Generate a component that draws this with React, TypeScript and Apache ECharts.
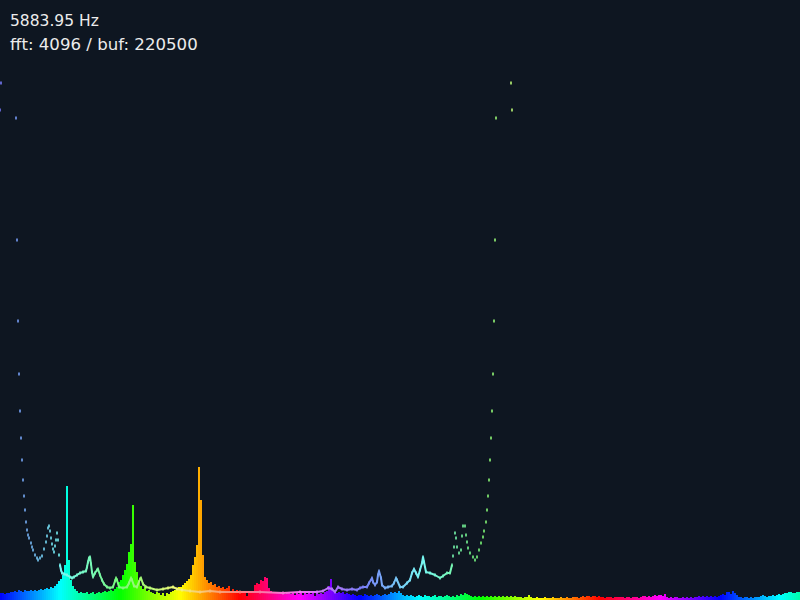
import React, { useEffect, useRef } from "react";
import * as echarts from "echarts";

// Spectrum bar heights, one per 2-px bin (0..799), in px above the floor
const binHeights = [
  7, 7, 6, 7, 7, 8, 8, 9, 8, 10,
  9, 8, 10, 9, 9, 10, 9, 10, 9, 10,
  11, 10, 11, 12, 11, 13, 12, 14, 16, 19,
  21, 25, 35, 114, 40, 20, 14, 11, 9, 7,
  8, 7, 7, 8, 6, 7, 8, 6, 7, 8,
  7, 8, 9, 8, 9, 10, 9, 11, 13, 18,
  20, 25, 30, 36, 48, 56, 95, 38, 28, 20,
  14, 11, 13, 9, 10, 8, 7, 6, 8, 7,
  5, 7, 4, 7, 6, 8, 9, 10, 12, 13,
  13, 15, 17, 19, 21, 25, 35, 43, 55, 133,
  100, 45, 23, 20, 17, 18, 15, 16, 13, 14,
  12, 13, 11, 12, 14, 9, 11, 8, 10, 9,
  8, 7, 9, 4, 8, 7, 8, 15, 17, 16,
  20, 19, 23, 22, 12, 9, 8, 7, 8, 7,
  8, 7, 6, 7, 8, 6, 7, 5, 7, 6,
  7, 5, 8, 6, 7, 6, 7, 4, 8, 6,
  7, 6, 8, 9, 14, 21, 10, 8, 7, 8,
  7, 8, 6, 7, 6, 5, 6, 5, 4, 5,
  5, 4, 6, 5, 4, 5, 4, 5, 6, 5,
  4, 5, 6, 5, 6, 8, 7, 8, 7, 9,
  7, 5, 4, 5, 4, 5, 4, 3, 4, 5,
  4, 3, 5, 4, 4, 3, 4, 5, 3, 4,
  4, 3, 4, 5, 4, 3, 4, 3, 5, 4,
  6, 5, 7, 6, 5, 4, 3, 4, 3, 4,
  3, 4, 3, 4, 3, 4, 3, 4, 3, 4,
  3, 4, 3, 4, 3, 4, 3, 4, 3, 3,
  3, 2, 3, 3, 5, 3, 2, 2, 3, 2,
  2, 2, 3, 2, 2, 2, 3, 2, 2, 2,
  3, 2, 2, 3, 2, 2, 3, 3, 3, 2,
  3, 4, 3, 4, 4, 3, 4, 4, 3, 4,
  3, 3, 2, 3, 3, 3, 2, 3, 3, 3,
  3, 3, 2, 3, 3, 2, 3, 3, 3, 2,
  3, 4, 4, 3, 4, 3, 4, 5, 4, 5,
  5, 4, 6, 3, 2, 3, 2, 3, 3, 2,
  2, 3, 2, 3, 2, 3, 2, 3, 3, 4,
  3, 4, 3, 4, 3, 4, 3, 4, 3, 4,
  5, 6, 5, 8, 8, 6, 9, 7, 5, 3,
  3, 2, 3, 3, 2, 3, 2, 3, 3, 3,
  4, 5, 4, 3, 4, 4, 5, 4, 5, 6,
  5, 6, 7, 7, 8, 8, 7, 7, 8, 8,
];

// Overlay curve: bin position and level (px above the floor)
const curveBins = [
  0, 1, 16, 17, 18, 19, 20, 21, 22, 23, 24, 25, 26, 27, 28, 29, 31, 32, 33, 35,
  37, 38, 40, 42, 44, 46, 47, 48, 49, 50, 51, 52, 53, 54, 55, 56, 57, 58, 59, 60,
  61, 62, 64, 67, 70, 72, 74, 77, 80, 83, 86, 87, 88, 89, 90, 91, 92, 93, 95, 97,
  98, 100, 102, 104, 107, 110, 113, 115, 116, 117, 119, 123, 127, 129, 131, 132, 134, 137, 140, 141,
  143, 146, 150, 157, 163, 168, 173, 177, 182, 190, 200, 210, 220, 240, 260, 283, 300, 317, 323, 328,
  332, 335, 338, 342, 347, 352, 357, 360, 363, 367, 369, 372, 373, 375, 377, 378, 379, 381, 382, 385,
  388, 392, 394, 396, 397, 400, 403, 407, 410, 412, 414, 416, 418, 420, 422, 423, 424, 426, 430, 435,
  440, 443, 447, 450, 452, 453, 454, 455, 456, 457, 459, 461, 462, 463, 465, 466, 467, 468, 470, 473,
  475, 477, 479, 481, 483, 484, 486, 487, 488, 489, 490, 491, 492, 493, 494, 495, 496, 511, 512,
];
const curveLevels = [
  490, 517, 482, 360, 279, 226, 189, 162, 140, 120, 104, 90, 78, 70, 65, 62, 57, 53, 50, 45,
  42, 40, 42, 44, 51, 58, 64, 72, 74, 69, 62, 56, 51, 48, 54, 60, 67, 60, 45, 35,
  30, 27, 26, 25, 23, 22, 23, 25, 27, 28, 29, 33, 38, 42, 43, 36, 28, 23, 27, 30,
  31, 25, 20, 16, 13, 12, 13, 19, 22, 20, 13, 12, 13, 17, 22, 20, 14, 13, 21, 22,
  16, 13, 12, 10, 11, 12, 13, 11, 10, 9, 8, 9, 8, 8, 8, 7, 8, 8, 9, 12,
  11, 8, 13, 11, 10, 11, 10, 12, 13, 13, 17, 22, 18, 15, 18, 25, 29, 22, 15, 12,
  13, 14, 17, 22, 20, 13, 13, 17, 20, 27, 31, 27, 23, 30, 37, 43, 38, 28, 27, 25,
  22, 24, 27, 27, 35, 44, 53, 67, 62, 53, 47, 50, 64, 74, 74, 65, 58, 52, 47, 43,
  40, 43, 50, 57, 63, 69, 78, 90, 104, 120, 140, 162, 189, 226, 279, 360, 482, 517, 490,
];

const readout = ["5883.95 Hz", "fft: 4096 / buf: 220500"];

const hueAt = (x: number) => (((240 - x) % 360) + 360) % 360;
const barColor = (x: number) => `hsl(${hueAt(x)},100%,50%)`;
const curveColor = (x: number) => `hsl(${hueAt(x)},90%,72%)`;

export default function App() {
  const ref = useRef<HTMLDivElement>(null);
  useEffect(() => {
    if (!ref.current) return;
    const chart = echarts.init(ref.current, undefined, { renderer: "svg" });
    const pts = curveBins.map((b, i) => [b, curveLevels[i]]);
    const linePts = pts.filter((p) => p[0] >= 60 && p[0] <= 452);
    const lx0 = 60;
    const lx1 = 452;
    const stops: { offset: number; color: string }[] = [];
    for (let k = 0; k <= 14; k++) {
      const x = lx0 + ((lx1 - lx0) * k) / 14;
      stops.push({ offset: k / 14, color: curveColor(x) });
    }
    const textSizes = [15.5, 16.6];
    const textTops = [13, 36];
    const option: any = {
      animation: false,
      backgroundColor: "#0e1621",
      grid: { left: 0, right: 0, top: 0, bottom: 0 },
      xAxis: [
        {
          type: "category",
          data: binHeights.map((_, i) => String(i)),
          show: false,
          boundaryGap: true,
        },
        { type: "value", min: 0, max: 800, show: false },
      ],
      yAxis: { type: "value", min: 0, max: 600, show: false },
      series: [
        {
          type: "bar",
          xAxisIndex: 0,
          data: binHeights,
          barWidth: 2,
          silent: true,
          itemStyle: { color: (p: any) => barColor(p.dataIndex * 2 + 1) },
        },
        {
          type: "line",
          xAxisIndex: 1,
          data: linePts,
          showSymbol: false,
          silent: true,
          z: 3,
          lineStyle: {
            width: 2,
            color: new echarts.graphic.LinearGradient(0, 0, 1, 0, stops),
          },
        },
        {
          type: "scatter",
          xAxisIndex: 1,
          data: pts,
          symbol: "rect",
          symbolSize: [2, 3],
          silent: true,
          z: 4,
          itemStyle: { color: (p: any) => curveColor(p.value[0]) },
        },
      ],
      graphic: readout.map((t, i) => ({
        type: "text",
        left: 10,
        top: textTops[i],
        silent: true,
        style: {
          text: t,
          fill: "#ececec",
          fontSize: textSizes[i],
          fontFamily: "DejaVu Sans",
        },
      })),
    };
    chart.setOption(option);
    return () => chart.dispose();
  }, []);
  return (
    <div
      ref={ref}
      style={{ position: "fixed", left: 0, top: 0, width: 800, height: 600 }}
    />
  );
}
